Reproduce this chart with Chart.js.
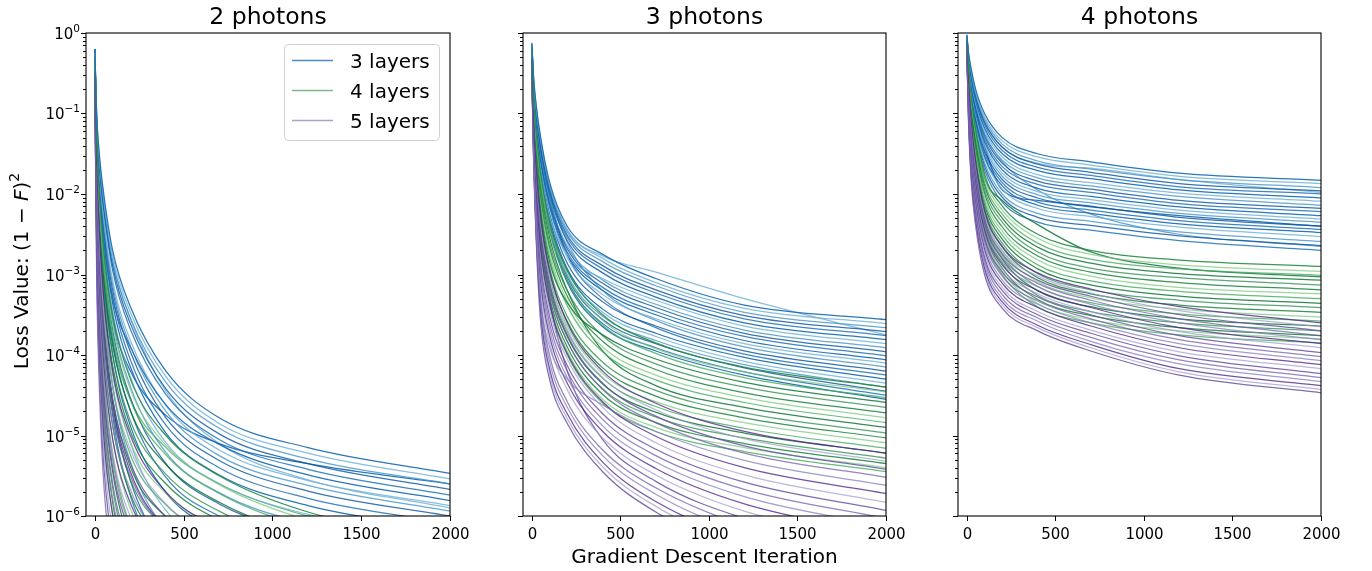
<!DOCTYPE html>
<html>
<head>
<meta charset="utf-8">
<script src="https://cdn.jsdelivr.net/npm/chart.js@4.4.0/dist/chart.umd.min.js"></script>
<style>
  body { margin: 0; background: #fff; }
  #wrap { position: relative; width: 1372px; height: 571px; }
  #wrap canvas { position: absolute; left: 0; top: 0; }
</style>
</head>
<body>
<div id="wrap">
  <canvas id="p1" width="1372" height="571"></canvas>
  <canvas id="p2" width="1372" height="571"></canvas>
  <canvas id="p3" width="1372" height="571"></canvas>
</div>
<script>
const iterations = [0, 10, 25, 50, 100, 200, 400, 700, 1200, 2000];
const panelTitles = ['2 photons', '3 photons', '4 photons'];
const layerLabels = ['3 layers', '4 layers', '5 layers'];
const xTicks = [0, 500, 1000, 1500, 2000];
const yDecades = [0, -1, -2, -3, -4, -5, -6];

// log10 of the loss (1-F)^2, one row per run
const photons2Layers3 = [
  [-0.2, -1.0, -1.5, -2.0, -2.7, -3.4, -4.2, -4.78, -5.15, -5.47],
  [-0.25, -1.02, -1.54, -2.05, -2.76, -3.47, -4.27, -4.85, -5.22, -5.54],
  [-0.2, -1.05, -1.58, -2.1, -2.82, -3.54, -4.34, -4.91, -5.29, -5.6],
  [-0.3, -1.07, -1.62, -2.15, -2.89, -3.61, -4.42, -4.98, -5.35, -5.67],
  [-0.2, -1.1, -1.66, -2.2, -2.95, -3.68, -4.49, -5.05, -5.42, -5.74],
  [-0.25, -1.3, -2.0, -2.6, -3.3, -3.9, -4.62, -5.11, -5.49, -5.81],
  [-0.2, -1.14, -1.73, -2.31, -3.07, -3.82, -4.63, -5.18, -5.56, -5.87],
  [-0.3, -1.17, -1.77, -2.36, -3.13, -3.89, -4.7, -5.25, -5.62, -5.94],
  [-0.2, -1.19, -1.81, -2.41, -3.19, -3.96, -4.78, -5.31, -5.69, -6.0],
  [-0.25, -1.22, -1.86, -2.48, -3.27, -4.06, -4.87, -5.4, -5.78, -6.09],
  [-0.2, -1.26, -1.92, -2.54, -3.36, -4.15, -4.97, -5.49, -5.87, -6.18],
  [-0.3, -1.3, -1.98, -2.63, -3.46, -4.27, -5.09, -5.6, -5.98, -6.3],
  [-0.2, -1.34, -2.05, -2.71, -3.56, -4.39, -5.21, -5.71, -6.1, -6.41],
  [-0.25, -1.38, -2.12, -2.82, -3.68, -4.53, -5.35, -5.85, -6.23, -6.54],
  [-0.2, -1.44, -2.22, -2.94, -3.83, -4.69, -5.52, -6.0, -6.39, -6.7],
  [-0.3, -1.5, -2.32, -3.07, -3.99, -4.88, -5.71, -6.18, -6.57, -6.88],
  [-0.2, -1.58, -2.44, -3.22, -4.18, -5.09, -5.93, -6.38, -6.77, -7.08],
  [-0.25, -1.66, -2.57, -3.39, -4.38, -5.33, -6.17, -6.6, -7.0, -7.3],
  [-0.2, -1.74, -2.7, -3.56, -4.59, -5.56, -6.41, -6.82, -7.22, -7.52],
  [-0.2, -1.8, -2.8, -3.7, -4.75, -5.75, -6.6, -7.0, -7.4, -7.7],
  [-0.3, -1.4, -2.1, -2.8, -3.55, -4.2, -4.75, -5.1, -5.35, -5.6],
  [-0.25, -1.2, -1.7, -2.2, -2.85, -3.55, -4.45, -5.1, -5.55, -5.9]
];
const photons2Layers4 = [
  [-0.3, -1.3, -2.0, -2.7, -3.5, -4.3, -5.0, -5.5, -5.95, -6.3],
  [-0.31, -1.37, -2.1, -2.82, -3.63, -4.43, -5.12, -5.61, -6.05, -6.39],
  [-0.32, -1.43, -2.19, -2.93, -3.75, -4.56, -5.24, -5.72, -6.15, -6.47],
  [-0.33, -1.5, -2.29, -3.05, -3.88, -4.69, -5.36, -5.83, -6.24, -6.56],
  [-0.34, -1.56, -2.38, -3.16, -4.0, -4.82, -5.48, -5.94, -6.34, -6.64],
  [-0.35, -1.63, -2.48, -3.28, -4.13, -4.95, -5.6, -6.05, -6.44, -6.73],
  [-0.36, -1.69, -2.57, -3.39, -4.25, -5.08, -5.72, -6.16, -6.54, -6.81],
  [-0.37, -1.77, -2.68, -3.53, -4.4, -5.24, -5.86, -6.29, -6.65, -6.91],
  [-0.38, -1.85, -2.8, -3.67, -4.55, -5.39, -6.01, -6.42, -6.77, -7.01],
  [-0.4, -1.92, -2.91, -3.8, -4.7, -5.55, -6.15, -6.56, -6.89, -7.12],
  [-0.41, -2.02, -3.05, -3.97, -4.88, -5.73, -6.32, -6.71, -7.02, -7.24],
  [-0.42, -2.11, -3.18, -4.13, -5.05, -5.91, -6.49, -6.86, -7.16, -7.35],
  [-0.44, -2.21, -3.33, -4.31, -5.25, -6.12, -6.68, -7.04, -7.32, -7.49],
  [-0.46, -2.31, -3.48, -4.49, -5.45, -6.33, -6.87, -7.22, -7.47, -7.63],
  [-0.47, -2.42, -3.63, -4.68, -5.65, -6.54, -7.06, -7.39, -7.63, -7.76],
  [-0.49, -2.51, -3.77, -4.84, -5.83, -6.72, -7.23, -7.55, -7.76, -7.88],
  [-0.5, -2.6, -3.9, -5.0, -6.0, -6.9, -7.4, -7.7, -7.9, -8.0],
  [-0.35, -1.4, -2.2, -2.95, -3.8, -4.55, -5.15, -5.6, -6.0, -6.3]
];
const photons2Layers5 = [
  [-0.5, -1.6, -2.45, -3.3, -4.2, -5.0, -5.7, -6.15, -6.6, -7.0],
  [-0.51, -1.7, -2.59, -3.46, -4.37, -5.17, -5.85, -6.28, -6.7, -7.07],
  [-0.53, -1.8, -2.72, -3.62, -4.54, -5.34, -6.01, -6.41, -6.8, -7.14],
  [-0.54, -1.89, -2.86, -3.78, -4.7, -5.5, -6.16, -6.54, -6.89, -7.21],
  [-0.56, -1.99, -3.0, -3.94, -4.87, -5.67, -6.32, -6.67, -6.99, -7.28],
  [-0.57, -2.09, -3.13, -4.11, -5.04, -5.84, -6.47, -6.8, -7.09, -7.35],
  [-0.58, -2.19, -3.27, -4.27, -5.21, -6.01, -6.62, -6.93, -7.19, -7.42],
  [-0.6, -2.3, -3.43, -4.45, -5.4, -6.2, -6.8, -7.08, -7.3, -7.5],
  [-0.62, -2.41, -3.58, -4.63, -5.59, -6.39, -6.98, -7.22, -7.41, -7.58],
  [-0.63, -2.52, -3.74, -4.82, -5.78, -6.58, -7.15, -7.37, -7.52, -7.66],
  [-0.65, -2.64, -3.89, -5.0, -5.98, -6.78, -7.33, -7.52, -7.64, -7.74],
  [-0.66, -2.75, -4.05, -5.19, -6.17, -6.97, -7.5, -7.67, -7.75, -7.82],
  [-0.68, -2.86, -4.21, -5.37, -6.36, -7.16, -7.68, -7.82, -7.86, -7.9],
  [-0.7, -3.0, -4.4, -5.6, -6.6, -7.4, -7.9, -8.0, -8.0, -8.0],
  [-1.0, -2.3, -3.35, -4.3, -5.3, -6.15, -6.8, -7.1, -7.4, -7.6],
  [-0.6, -1.9, -2.85, -3.7, -4.6, -5.45, -6.15, -6.5, -6.85, -7.1]
];

const photons3Layers3 = [
  [-0.12, -0.55, -0.9, -1.3, -1.85, -2.4, -2.75, -3.05, -3.38, -3.56],
  [-0.13, -0.57, -0.93, -1.33, -1.88, -2.44, -2.8, -3.1, -3.42, -3.61],
  [-0.14, -0.6, -0.96, -1.36, -1.91, -2.47, -2.84, -3.14, -3.47, -3.66],
  [-0.15, -0.62, -0.98, -1.39, -1.94, -2.51, -2.89, -3.19, -3.51, -3.71],
  [-0.16, -0.64, -1.01, -1.42, -1.97, -2.54, -2.93, -3.23, -3.55, -3.76],
  [-0.17, -0.66, -1.04, -1.45, -2.0, -2.58, -2.98, -3.28, -3.6, -3.81],
  [-0.25, -0.87, -1.29, -1.72, -2.27, -2.75, -3.05, -3.32, -3.64, -3.86],
  [-0.18, -0.71, -1.09, -1.51, -2.06, -2.65, -3.07, -3.37, -3.69, -3.91],
  [-0.19, -0.73, -1.12, -1.54, -2.09, -2.68, -3.11, -3.41, -3.73, -3.96],
  [-0.2, -0.75, -1.15, -1.57, -2.12, -2.72, -3.16, -3.46, -3.77, -4.01],
  [-0.21, -0.78, -1.18, -1.6, -2.15, -2.75, -3.2, -3.5, -3.82, -4.06],
  [-0.22, -0.8, -1.2, -1.63, -2.18, -2.79, -3.25, -3.55, -3.86, -4.1],
  [-0.16, -0.64, -1.0, -1.42, -1.97, -2.6, -3.2, -3.57, -3.9, -4.15],
  [-0.24, -0.84, -1.26, -1.69, -2.24, -2.86, -3.34, -3.64, -3.95, -4.2],
  [-0.17, -0.69, -1.07, -1.48, -2.03, -2.75, -3.3, -3.66, -3.99, -4.25],
  [-0.26, -0.89, -1.31, -1.75, -2.3, -2.93, -3.43, -3.73, -4.03, -4.3],
  [-0.26, -0.91, -1.34, -1.78, -2.33, -2.96, -3.47, -3.77, -4.08, -4.35],
  [-0.27, -0.93, -1.37, -1.81, -2.36, -3.0, -3.52, -3.82, -4.12, -4.4],
  [-0.28, -0.96, -1.4, -1.84, -2.39, -3.03, -3.56, -3.86, -4.16, -4.45],
  [-0.29, -0.98, -1.42, -1.87, -2.42, -3.07, -3.61, -3.91, -4.21, -4.5],
  [-0.3, -1.0, -1.45, -1.9, -2.45, -3.1, -3.65, -3.95, -4.25, -4.55],
  [-0.15, -0.6, -0.95, -1.35, -1.9, -2.45, -2.77, -2.97, -3.3, -3.75]
];
const photons3Layers4 = [
  [-0.2, -0.8, -1.25, -1.75, -2.35, -2.95, -3.5, -3.85, -4.15, -4.4],
  [-0.22, -0.84, -1.3, -1.81, -2.41, -3.01, -3.57, -3.92, -4.21, -4.46],
  [-0.24, -0.88, -1.35, -1.87, -2.47, -3.08, -3.63, -3.98, -4.28, -4.53],
  [-0.34, -1.11, -1.66, -2.22, -2.84, -3.35, -3.75, -4.05, -4.34, -4.59],
  [-0.27, -0.96, -1.45, -1.98, -2.6, -3.2, -3.76, -4.11, -4.4, -4.65],
  [-0.29, -1.0, -1.51, -2.04, -2.66, -3.27, -3.83, -4.18, -4.47, -4.72],
  [-0.31, -1.03, -1.56, -2.1, -2.72, -3.33, -3.9, -4.25, -4.53, -4.78],
  [-0.33, -1.07, -1.61, -2.16, -2.78, -3.39, -3.96, -4.31, -4.59, -4.84],
  [-0.25, -0.92, -1.4, -1.93, -2.54, -3.2, -3.95, -4.38, -4.65, -4.9],
  [-0.36, -1.15, -1.71, -2.27, -2.91, -3.52, -4.09, -4.44, -4.72, -4.97],
  [-0.38, -1.19, -1.76, -2.33, -2.97, -3.58, -4.16, -4.51, -4.78, -5.03],
  [-0.4, -1.23, -1.81, -2.39, -3.03, -3.64, -4.23, -4.58, -4.84, -5.09],
  [-0.42, -1.27, -1.86, -2.45, -3.09, -3.71, -4.29, -4.64, -4.91, -5.16],
  [-0.43, -1.31, -1.91, -2.51, -3.15, -3.77, -4.36, -4.71, -4.97, -5.22],
  [-0.45, -1.35, -1.96, -2.56, -3.22, -3.83, -4.42, -4.77, -5.03, -5.28],
  [-0.47, -1.39, -2.02, -2.62, -3.28, -3.9, -4.49, -4.84, -5.1, -5.35],
  [-0.49, -1.42, -2.06, -2.67, -3.33, -3.95, -4.55, -4.9, -5.15, -5.4],
  [-0.5, -1.45, -2.1, -2.72, -3.38, -4.0, -4.6, -4.95, -5.2, -5.45]
];
const photons3Layers5 = [
  [-0.3, -1.1, -1.7, -2.3, -2.95, -3.6, -4.2, -4.6, -4.95, -5.22],
  [-0.31, -1.13, -1.75, -2.38, -3.03, -3.68, -4.28, -4.68, -5.04, -5.32],
  [-0.32, -1.16, -1.81, -2.46, -3.11, -3.75, -4.35, -4.76, -5.13, -5.42],
  [-0.34, -1.19, -1.86, -2.53, -3.19, -3.83, -4.43, -4.84, -5.22, -5.52],
  [-0.45, -1.5, -2.4, -3.3, -3.9, -4.3, -4.62, -4.95, -5.31, -5.62],
  [-0.36, -1.25, -1.97, -2.69, -3.36, -3.98, -4.58, -5.01, -5.4, -5.72],
  [-0.37, -1.28, -2.02, -2.77, -3.44, -4.05, -4.65, -5.09, -5.49, -5.83],
  [-0.38, -1.31, -2.08, -2.85, -3.52, -4.13, -4.73, -5.17, -5.58, -5.93],
  [-0.4, -1.34, -2.13, -2.92, -3.6, -4.2, -4.8, -5.25, -5.67, -6.03],
  [-0.41, -1.37, -2.19, -3.0, -3.68, -4.28, -4.88, -5.33, -5.76, -6.13],
  [-0.42, -1.4, -2.24, -3.08, -3.76, -4.35, -4.95, -5.41, -5.85, -6.23],
  [-0.43, -1.43, -2.29, -3.16, -3.84, -4.43, -5.03, -5.49, -5.94, -6.33],
  [-0.33, -1.15, -1.8, -2.5, -3.3, -4.2, -5.05, -5.57, -6.03, -6.43],
  [-0.46, -1.49, -2.4, -3.31, -4.0, -4.58, -5.18, -5.65, -6.12, -6.53],
  [-0.47, -1.52, -2.46, -3.39, -4.08, -4.65, -5.25, -5.73, -6.21, -6.63],
  [-0.48, -1.55, -2.51, -3.47, -4.17, -4.73, -5.33, -5.82, -6.3, -6.73],
  [-0.49, -1.58, -2.56, -3.54, -4.23, -4.79, -5.39, -5.88, -6.38, -6.82],
  [-0.5, -1.6, -2.6, -3.6, -4.3, -4.85, -5.45, -5.95, -6.45, -6.9]
];

const photons4Layers3 = [
  [-0.02, -0.25, -0.45, -0.7, -1.0, -1.3, -1.5, -1.6, -1.74, -1.83],
  [-0.03, -0.27, -0.47, -0.73, -1.04, -1.34, -1.54, -1.64, -1.78, -1.87],
  [-0.03, -0.28, -0.5, -0.76, -1.07, -1.38, -1.59, -1.69, -1.82, -1.92],
  [-0.04, -0.3, -0.52, -0.78, -1.11, -1.42, -1.63, -1.73, -1.87, -1.96],
  [-0.04, -0.31, -0.54, -0.81, -1.14, -1.46, -1.67, -1.77, -1.91, -2.0],
  [-0.05, -0.33, -0.56, -0.84, -1.18, -1.5, -1.71, -1.81, -1.95, -2.05],
  [-0.05, -0.34, -0.59, -0.87, -1.21, -1.54, -1.76, -1.86, -1.99, -2.09],
  [-0.06, -0.36, -0.61, -0.89, -1.25, -1.58, -1.8, -1.9, -2.03, -2.14],
  [-0.06, -0.37, -0.63, -0.92, -1.28, -1.62, -1.84, -1.94, -2.08, -2.18],
  [-0.07, -0.39, -0.65, -0.95, -1.32, -1.66, -1.88, -1.98, -2.12, -2.22],
  [-0.07, -0.4, -0.68, -0.98, -1.35, -1.7, -1.93, -2.03, -2.16, -2.27],
  [-0.08, -0.42, -0.7, -1.0, -1.39, -1.74, -1.97, -2.07, -2.2, -2.31],
  [-0.08, -0.43, -0.72, -1.03, -1.42, -1.78, -2.01, -2.11, -2.24, -2.35],
  [-0.09, -0.45, -0.74, -1.06, -1.46, -1.82, -2.05, -2.15, -2.29, -2.4],
  [-0.09, -0.46, -0.77, -1.09, -1.49, -1.86, -2.1, -2.2, -2.33, -2.44],
  [-0.1, -0.48, -0.79, -1.11, -1.53, -1.9, -2.14, -2.24, -2.37, -2.48],
  [-0.1, -0.49, -0.81, -1.14, -1.56, -1.94, -2.18, -2.28, -2.41, -2.53],
  [-0.11, -0.51, -0.84, -1.18, -1.61, -2.0, -2.24, -2.34, -2.47, -2.59],
  [-0.11, -0.53, -0.87, -1.21, -1.65, -2.04, -2.29, -2.39, -2.52, -2.64],
  [-0.12, -0.55, -0.9, -1.25, -1.7, -2.1, -2.35, -2.45, -2.58, -2.7],
  [-0.08, -0.4, -0.65, -0.95, -1.4, -1.95, -2.08, -2.16, -2.27, -2.4],
  [-0.05, -0.3, -0.52, -0.8, -1.1, -1.42, -1.62, -1.68, -1.82, -1.98],
  [-0.1, -0.35, -0.6, -0.9, -1.25, -1.6, -1.95, -2.25, -2.5, -2.65]
];
const photons4Layers4 = [
  [-0.05, -0.4, -0.8, -1.2, -1.75, -2.15, -2.5, -2.7, -2.82, -2.9],
  [-0.06, -0.43, -0.84, -1.25, -1.8, -2.2, -2.55, -2.75, -2.88, -2.96],
  [-0.07, -0.46, -0.87, -1.29, -1.85, -2.25, -2.61, -2.81, -2.93, -3.01],
  [-0.08, -0.49, -0.91, -1.34, -1.89, -2.3, -2.66, -2.86, -2.99, -3.07],
  [-0.09, -0.52, -0.95, -1.38, -1.94, -2.35, -2.72, -2.92, -3.04, -3.13],
  [-0.1, -0.55, -0.99, -1.43, -1.99, -2.41, -2.77, -2.97, -3.1, -3.19],
  [-0.1, -0.58, -1.02, -1.47, -2.04, -2.46, -2.82, -3.02, -3.16, -3.24],
  [-0.11, -0.61, -1.06, -1.52, -2.09, -2.51, -2.88, -3.08, -3.21, -3.3],
  [-0.12, -0.64, -1.1, -1.56, -2.13, -2.56, -2.93, -3.13, -3.27, -3.36],
  [-0.13, -0.67, -1.14, -1.61, -2.18, -2.61, -2.99, -3.19, -3.32, -3.41],
  [-0.14, -0.7, -1.17, -1.65, -2.23, -2.66, -3.04, -3.24, -3.38, -3.47],
  [-0.15, -0.73, -1.21, -1.7, -2.28, -2.71, -3.09, -3.29, -3.43, -3.53],
  [-0.16, -0.76, -1.25, -1.74, -2.33, -2.76, -3.15, -3.35, -3.49, -3.58],
  [-0.17, -0.79, -1.28, -1.79, -2.37, -2.81, -3.2, -3.4, -3.55, -3.64],
  [-0.18, -0.82, -1.32, -1.83, -2.42, -2.86, -3.26, -3.46, -3.6, -3.7],
  [-0.19, -0.85, -1.36, -1.88, -2.47, -2.92, -3.31, -3.51, -3.66, -3.76],
  [-0.19, -0.88, -1.39, -1.91, -2.51, -2.96, -3.36, -3.56, -3.7, -3.8],
  [-0.2, -0.9, -1.42, -1.95, -2.55, -3.0, -3.4, -3.6, -3.75, -3.85],
  [-0.08, -0.45, -0.85, -1.3, -1.8, -2.08, -2.38, -2.72, -2.92, -3.03]
];
const photons4Layers5 = [
  [-0.1, -0.6, -1.1, -1.6, -2.2, -2.65, -2.98, -3.18, -3.4, -3.6],
  [-0.11, -0.63, -1.15, -1.65, -2.25, -2.7, -3.02, -3.23, -3.45, -3.65],
  [-0.11, -0.67, -1.19, -1.7, -2.3, -2.74, -3.07, -3.27, -3.5, -3.7],
  [-0.12, -0.7, -1.24, -1.74, -2.34, -2.79, -3.11, -3.32, -3.55, -3.76],
  [-0.13, -0.73, -1.28, -1.79, -2.39, -2.84, -3.15, -3.37, -3.6, -3.81],
  [-0.14, -0.77, -1.33, -1.84, -2.44, -2.88, -3.2, -3.41, -3.66, -3.86],
  [-0.14, -0.8, -1.37, -1.89, -2.49, -2.93, -3.24, -3.46, -3.71, -3.91],
  [-0.15, -0.83, -1.42, -1.94, -2.54, -2.97, -3.28, -3.5, -3.76, -3.97],
  [-0.16, -0.86, -1.46, -1.98, -2.58, -3.02, -3.33, -3.55, -3.81, -4.02],
  [-0.17, -0.9, -1.51, -2.03, -2.63, -3.07, -3.37, -3.6, -3.86, -4.07],
  [-0.17, -0.93, -1.55, -2.08, -2.68, -3.11, -3.41, -3.64, -3.91, -4.12],
  [-0.18, -0.96, -1.6, -2.13, -2.73, -3.16, -3.46, -3.69, -3.96, -4.17],
  [-0.19, -1.0, -1.64, -2.18, -2.78, -3.2, -3.5, -3.73, -4.01, -4.23],
  [-0.19, -1.03, -1.69, -2.22, -2.82, -3.25, -3.54, -3.78, -4.06, -4.28],
  [-0.2, -1.06, -1.73, -2.27, -2.87, -3.3, -3.58, -3.83, -4.11, -4.33],
  [-0.21, -1.1, -1.78, -2.32, -2.92, -3.34, -3.63, -3.87, -4.17, -4.38],
  [-0.21, -1.12, -1.81, -2.36, -2.96, -3.38, -3.66, -3.91, -4.21, -4.43],
  [-0.22, -1.15, -1.85, -2.4, -3.0, -3.42, -3.7, -3.95, -4.25, -4.47]
];

const blueShades = ['rgba(31,112,180,0.95)', 'rgba(66,146,198,0.8)', 'rgba(33,113,181,0.85)', 'rgba(107,174,214,0.8)', 'rgba(8,81,156,0.8)'];
const greenShades = ['rgba(35,139,69,0.9)', 'rgba(65,171,93,0.8)', 'rgba(35,139,69,0.75)', 'rgba(116,196,118,0.7)', 'rgba(0,109,44,0.8)'];
const purpleShades = ['rgba(84,39,143,0.8)', 'rgba(106,81,163,0.85)', 'rgba(128,125,186,0.75)', 'rgba(158,154,200,0.7)', 'rgba(106,81,163,0.7)'];
const legendColors = ['rgba(33,113,181,0.8)', 'rgba(35,139,69,0.6)', 'rgba(106,81,163,0.55)'];

const panels = [
  { id: 'p1', left: 86, right: 450, runs: [photons2Layers3, photons2Layers4, photons2Layers5] },
  { id: 'p2', left: 523, right: 886, runs: [photons3Layers3, photons3Layers4, photons3Layers5] },
  { id: 'p3', left: 958, right: 1321, runs: [photons4Layers3, photons4Layers4, photons4Layers5] }
];
const TOP = 33, BOTTOM = 516, W = 1372, H = 571;
const FONT = '"DejaVu Sans", sans-serif';

function montarDatasets(groups) {
  const shades = [blueShades, greenShades, purpleShades];
  const out = [];
  const n = Math.max(...groups.map(g => g.length));
  // interleave runs so no colour is always on top
  for (let i = 0; i < n; i++) {
    groups.forEach((g, gi) => {
      if (!g[i]) return;
      out.push({
        label: layerLabels[gi],
        data: iterations.map((it, k) => ({ x: it, y: Math.pow(10, g[i][k]) })),
        borderColor: shades[gi][(i * 3) % shades[gi].length],
        borderWidth: 1.25,
        pointRadius: 0,
        fill: false,
        cubicInterpolationMode: 'monotone',
        clip: 0
      });
    });
  }
  return out;
}

function supLabel(ctx, text, exp, xRight, yBase, size) {
  ctx.font = `${size}px ${FONT}`;
  const w1 = ctx.measureText(text).width;
  ctx.font = `${size * 0.7}px ${FONT}`;
  const w2 = ctx.measureText(exp).width;
  ctx.textAlign = 'left';
  ctx.textBaseline = 'alphabetic';
  ctx.font = `${size}px ${FONT}`;
  ctx.fillText(text, xRight - w1 - w2, yBase);
  ctx.font = `${size * 0.7}px ${FONT}`;
  ctx.fillText(exp, xRight - w2, yBase - size * 0.45);
}

const mplAxes = {
  id: 'mplAxes',
  afterDraw(chart, args, opts) {
    const ctx = chart.ctx;
    const { left, right, top, bottom } = chart.chartArea;
    const xs = chart.scales.x, ys = chart.scales.y;
    ctx.save();
    ctx.fillStyle = '#000';
    ctx.strokeStyle = '#000';
    ctx.lineWidth = 1.1;
    ctx.strokeRect(left, top, right - left, bottom - top);

    // x ticks
    ctx.lineWidth = 1;
    ctx.font = `15px ${FONT}`;
    ctx.textAlign = 'center';
    ctx.textBaseline = 'alphabetic';
    xTicks.forEach(v => {
      const px = Math.round(xs.getPixelForValue(v)) + 0.5;
      ctx.beginPath(); ctx.moveTo(px, bottom); ctx.lineTo(px, bottom + 5); ctx.stroke();
      ctx.fillText(String(v), px, bottom + 23);
    });

    // y ticks, major and minor
    yDecades.forEach(e => {
      const py = Math.round(ys.getPixelForValue(Math.pow(10, e))) + 0.5;
      ctx.beginPath(); ctx.moveTo(left - 5, py); ctx.lineTo(left, py); ctx.stroke();
      if (opts.yLabels) supLabel(ctx, '10', e === 0 ? '0' : '\u2212' + (-e), left - 6, py + 5.5, 15);
      if (e > -6) {
        for (let k = 2; k <= 9; k++) {
          const pm = Math.round(ys.getPixelForValue(k * Math.pow(10, e - 1))) + 0.5;
          ctx.beginPath(); ctx.moveTo(left - 3, pm); ctx.lineTo(left, pm); ctx.stroke();
        }
      }
    });

    // title
    ctx.font = `23.5px ${FONT}`;
    ctx.textAlign = 'center';
    ctx.fillText(opts.title, (left + right) / 2, 24);

    if (opts.xTitle) {
      ctx.font = `20px ${FONT}`;
      ctx.fillText('Gradient Descent Iteration', (left + right) / 2, 563);
    }

    if (opts.yTitle) {
      ctx.translate(21, 271);
      ctx.rotate(-Math.PI / 2);
      const parts = [
        ['Loss Value: (1 \u2212 ', `20px ${FONT}`, 0],
        ['F', `italic 20px ${FONT}`, 0],
        [')', `20px ${FONT}`, 0],
        ['2', `14px ${FONT}`, -9]
      ];
      let total = 0;
      parts.forEach(p => { ctx.font = p[1]; total += ctx.measureText(p[0]).width; });
      let x = -total / 2;
      ctx.textAlign = 'left';
      parts.forEach(p => {
        ctx.font = p[1];
        ctx.fillText(p[0], x, 7 + p[2]);
        x += ctx.measureText(p[0]).width;
      });
      ctx.setTransform(1, 0, 0, 1, 0, 0);
    }

    if (opts.legend) {
      const bx = 284.5, by = 44.5, bw = 155, bh = 96, r = 4;
      ctx.beginPath();
      ctx.moveTo(bx + r, by);
      ctx.arcTo(bx + bw, by, bx + bw, by + bh, r);
      ctx.arcTo(bx + bw, by + bh, bx, by + bh, r);
      ctx.arcTo(bx, by + bh, bx, by, r);
      ctx.arcTo(bx, by, bx + bw, by, r);
      ctx.closePath();
      ctx.fillStyle = 'rgba(255,255,255,0.8)';
      ctx.fill();
      ctx.strokeStyle = '#d0d0d0';
      ctx.lineWidth = 1;
      ctx.stroke();
      layerLabels.forEach((lab, i) => {
        const ly = 60.5 + 30 * i;
        ctx.strokeStyle = legendColors[i];
        ctx.lineWidth = 1.3;
        ctx.beginPath(); ctx.moveTo(292, ly); ctx.lineTo(333, ly); ctx.stroke();
        ctx.fillStyle = '#000';
        ctx.font = `20px ${FONT}`;
        ctx.textAlign = 'left';
        ctx.fillText(lab, 350, ly + 7);
      });
    }
    ctx.restore();
  }
};

panels.forEach((p, idx) => {
  new Chart(document.getElementById(p.id), {
    type: 'line',
    data: { datasets: montarDatasets(p.runs) },
    options: {
      responsive: false,
      animation: false,
      events: [],
      layout: { padding: { left: p.left, right: W - p.right, top: TOP, bottom: H - BOTTOM } },
      scales: {
        x: { type: 'linear', min: -50, max: 2000, display: false },
        y: { type: 'logarithmic', min: 1e-6, max: 1, display: false }
      },
      plugins: {
        legend: { display: false },
        tooltip: { enabled: false },
        mplAxes: {
          title: panelTitles[idx],
          yLabels: idx === 0,
          yTitle: idx === 0,
          xTitle: idx === 1,
          legend: idx === 0
        }
      }
    },
    plugins: [mplAxes]
  });
});
</script>
</body>
</html>
